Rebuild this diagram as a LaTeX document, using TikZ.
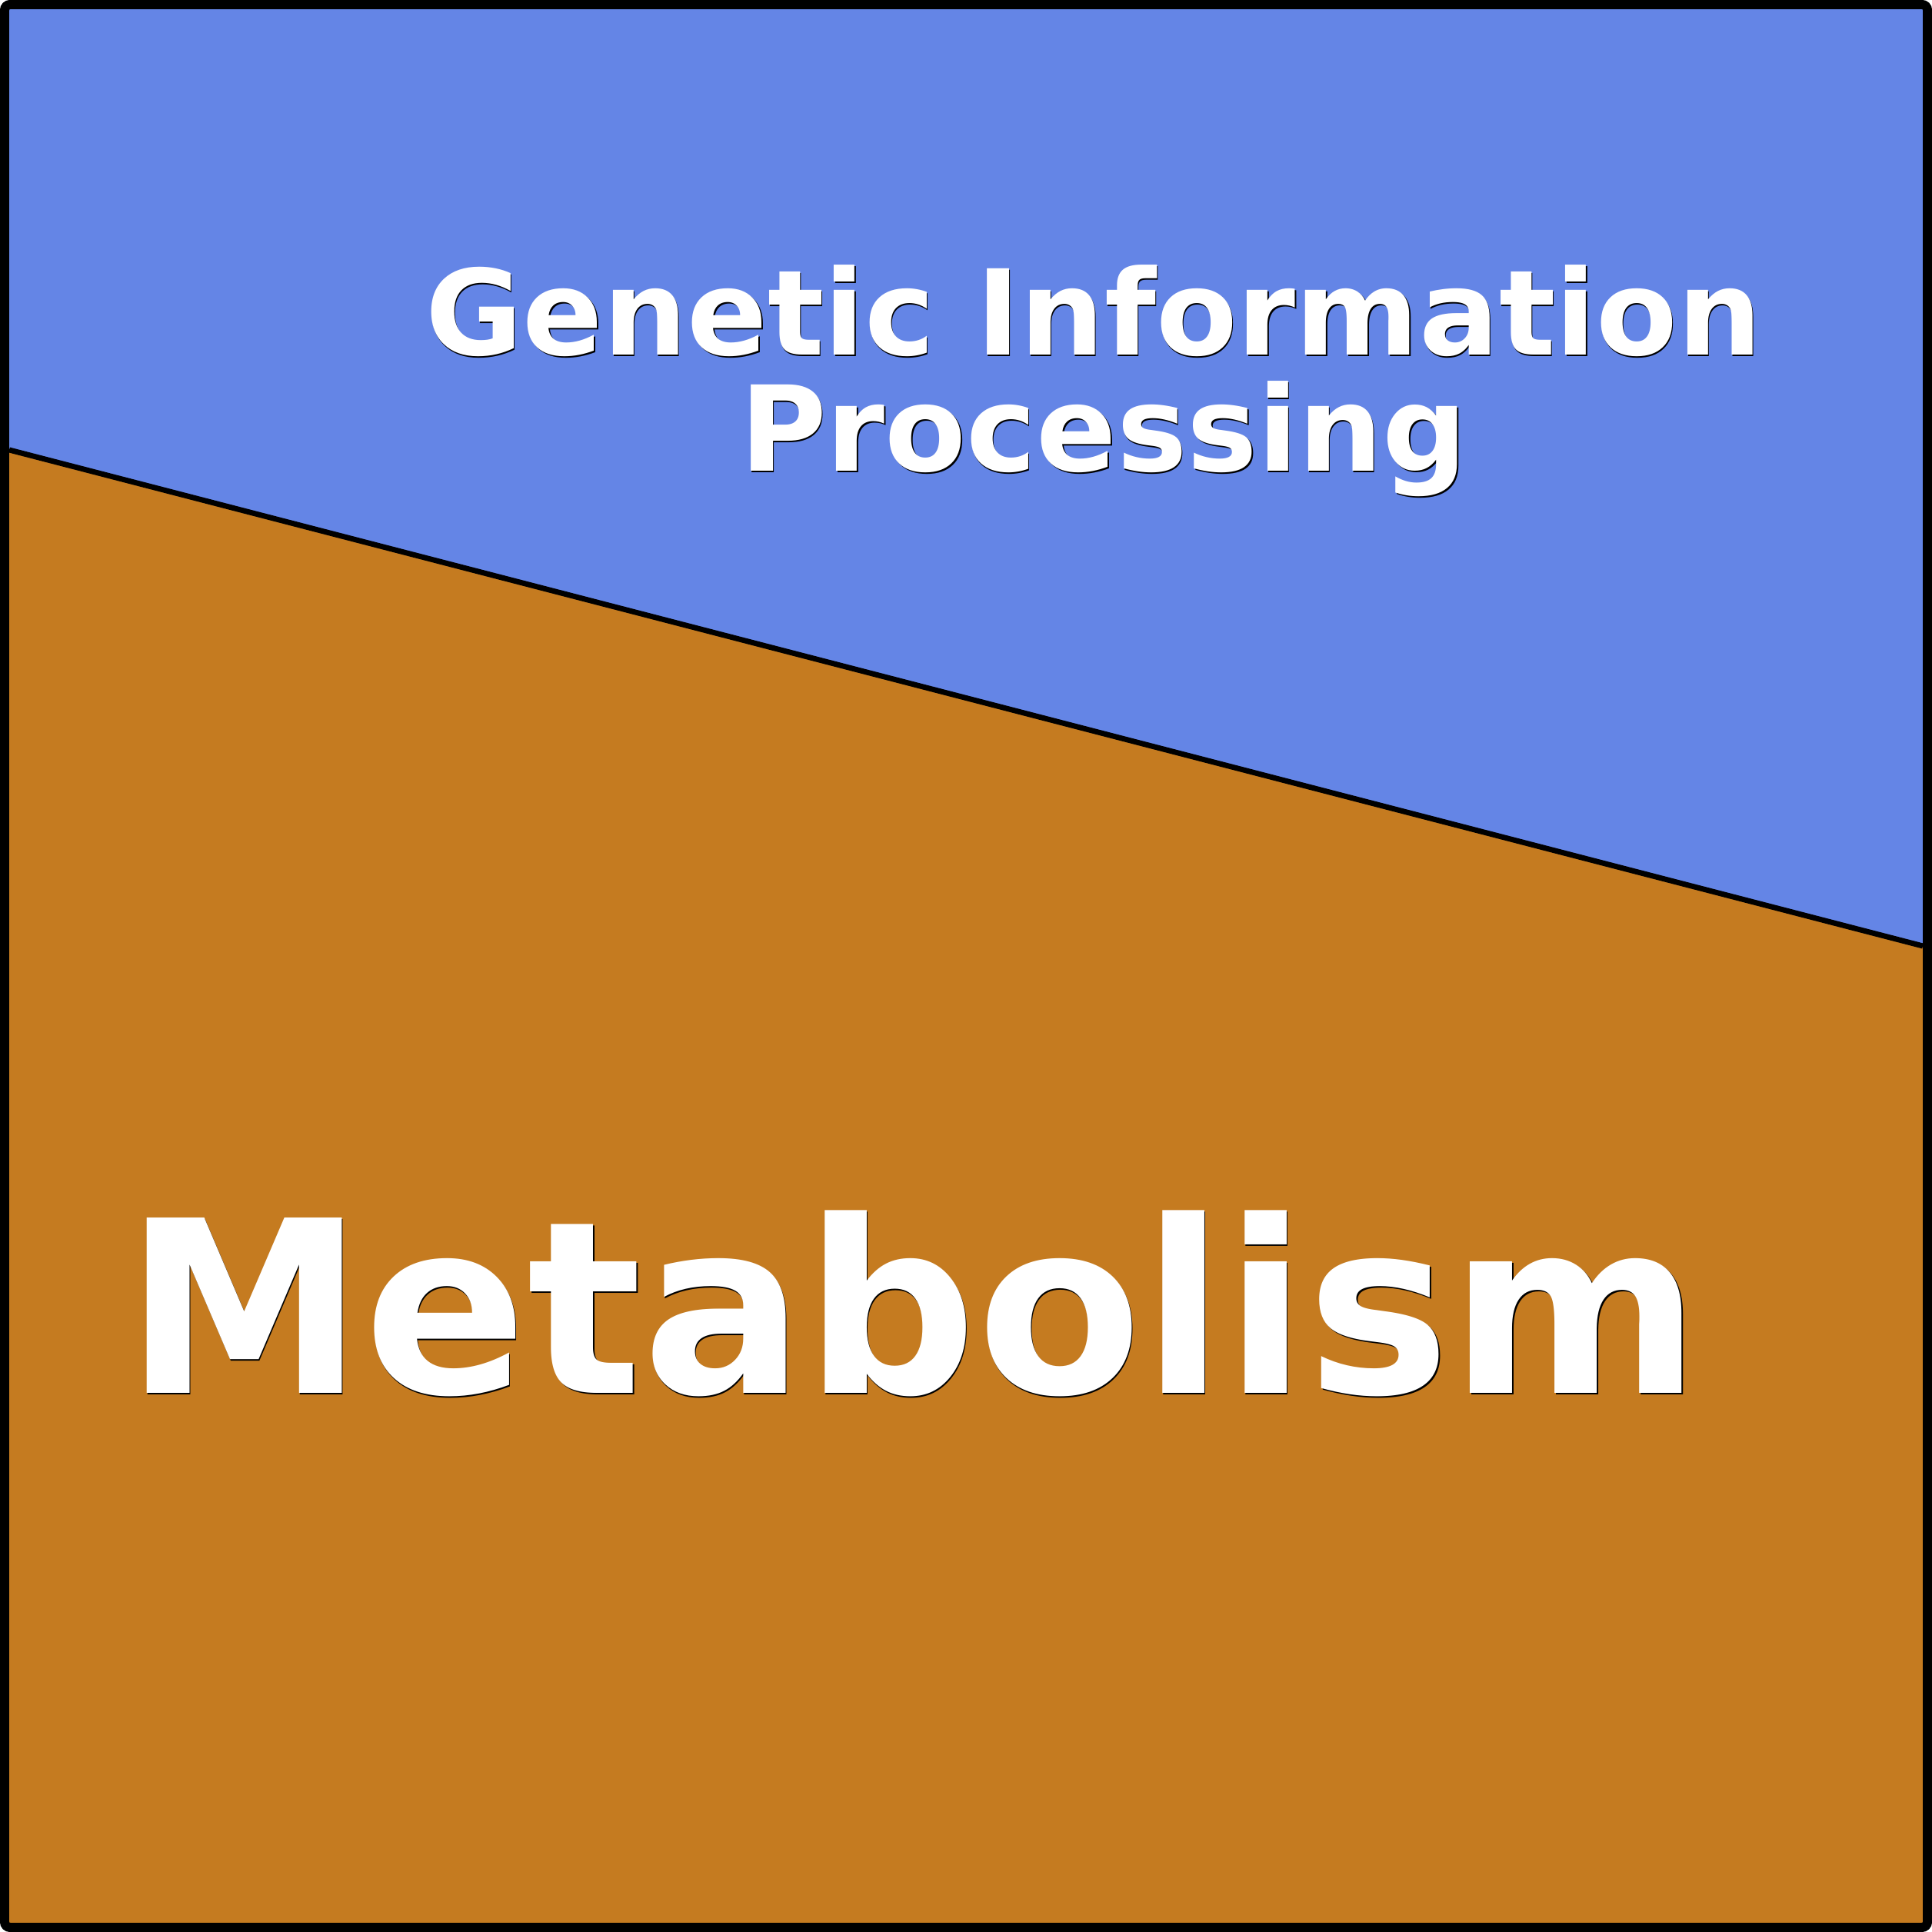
\documentclass[tikz,border=0pt]{standalone}
\usepackage{fontspec}
\setmainfont{DejaVu Sans}
\usepackage{xcolor}
\usetikzlibrary{positioning}
\definecolor{gipblue}{RGB}{100,133,230}
\definecolor{metaorange}{RGB}{197,123,32}
\newcommand{\edgetext}[1]{\leavevmode\rlap{\hspace{0.4pt}\raisebox{-0.4pt}{\color{black}#1}}{\color{white}#1}}
\tikzset{
  framebox/.style={draw=black, line width=0.12cm, rounded corners=2pt},
  splitline/.style={draw=black, line width=0.07cm},
  titletext/.style={
    inner sep=0pt, anchor=base,
    font=\fontsize{43.8pt}{43pt}\selectfont\bfseries
  },
  bigtext/.style={
    inner sep=0pt, anchor=base,
    font=\fontsize{89pt}{89pt}\selectfont\bfseries
  }
}

\begin{document}
\begin{tikzpicture}
    \useasboundingbox (0,0) rectangle (25.12,25.12);
    % the two regions
    \fill[gipblue] (0.12,19.27) -- (0.12,25.00) -- (25.00,25.00) -- (25.00,12.82) -- cycle;
    \fill[metaorange] (0.12,19.27) -- (25.00,12.82) -- (25.00,0.12) -- (0.12,0.12) -- cycle;
    \coordinate (splitl) at (0.12,19.27);
    \coordinate (splitr) at (25.00,12.82);
    \draw[splitline] (splitl) -- (splitr);
    \draw[framebox] (0.06,0.06) rectangle (25.06,25.06);
    % labels
    \node[titletext] (genetic) at (14.22,20.50) {\edgetext{Genetic Information}};
    \node[titletext] (processing) at ([xshift=0.13cm, yshift=-1.51cm]genetic.base) {\edgetext{Processing}};
    \node[bigtext] (metabolism) at (11.87,7.00) {\edgetext{Metabolism}};
\end{tikzpicture}
\end{document}
